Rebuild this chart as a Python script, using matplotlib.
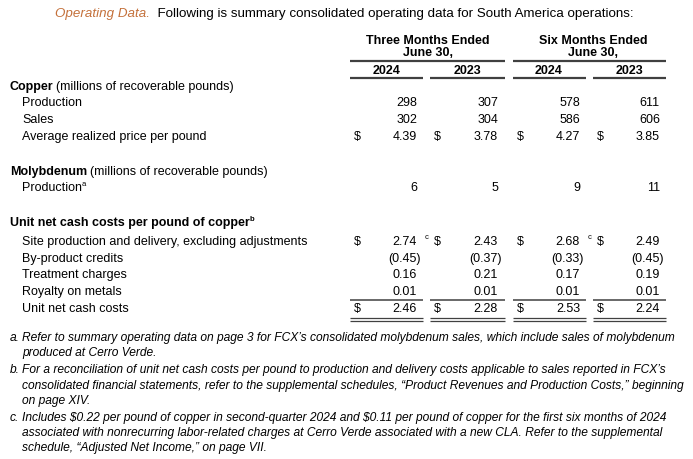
import matplotlib
matplotlib.use("Agg")
import matplotlib.pyplot as plt

# ---------------- data ----------------
periods = [("Three Months Ended", "June 30,"), ("Six Months Ended", "June 30,")]
years = ["2024", "2023", "2024", "2023"]
copper_production = [298, 307, 578, 611]
copper_sales = [302, 304, 586, 606]
avg_price = [4.39, 3.78, 4.27, 3.85]
moly_production = [6, 5, 9, 11]
site_production = [2.74, 2.43, 2.68, 2.49]
byproduct_credits = [-0.45, -0.37, -0.33, -0.45]
treatment_charges = [0.16, 0.21, 0.17, 0.19]
royalty = [0.01, 0.01, 0.01, 0.01]
unit_net_cash = [2.46, 2.28, 2.53, 2.24]
site_notes = ["c", "", "c", ""]

footnotes = [
    ("a.", ["Refer to summary operating data on page 3 for FCX\u2019s consolidated molybdenum sales, which include sales of molybdenum",
            "produced at Cerro Verde."]),
    ("b.", ["For a reconciliation of unit net cash costs per pound to production and delivery costs applicable to sales reported in FCX\u2019s",
            "consolidated financial statements, refer to the supplemental schedules, \u201cProduct Revenues and Production Costs,\u201d beginning",
            "on page XIV."]),
    ("c.", ["Includes $0.22 per pound of copper in second-quarter 2024 and $0.11 per pound of copper for the first six months of 2024",
            "associated with nonrecurring labor-related charges at Cerro Verde associated with a new CLA. Refer to the supplemental",
            "schedule, \u201cAdjusted Net Income,\u201d on page VII."]),
]

plt.rcParams["font.family"] = ["Liberation Sans", "DejaVu Sans"]

fig = plt.figure(figsize=(6.93, 4.60), dpi=100)
ax = fig.add_axes([0, 0, 1, 1])
ax.set_xlim(0, 693)
ax.set_ylim(460, 0)
ax.axis("off")
renderer = fig.canvas.get_renderer()

FS = 9
LINE = "#404040"

def t(x, y, s, **kw):
    kw.setdefault("fontsize", FS)
    kw.setdefault("va", "center")
    kw.setdefault("color", "black")
    kw.setdefault("parse_math", False)
    return ax.text(x, y, s, **kw)

def runs(x, y, parts, gap=0):
    for s, kw in parts:
        tx = t(x, y, s, **kw)
        x += tx.get_window_extent(renderer).width + gap

# title
runs(55, 14, [("Operating Data.", dict(color="#C4703A", style="italic", fontsize=9.6)),
              ("  Following is summary consolidated operating data for South America operations:", dict(fontsize=9.6))])

# headers
period_centers = [428, 593]
for cx, (l1, l2) in zip(period_centers, periods):
    t(cx, 41, l1, ha="center", fontweight="bold")
    t(cx, 52.5, l2, ha="center", fontweight="bold")
ax.hlines(62, 350, 505, color=LINE, lw=1.6)
ax.hlines(62, 513, 666, color=LINE, lw=1.6)

year_centers = [387, 467, 549, 629]
for cx, yv in zip(year_centers, years):
    t(cx, 70.5, yv, ha="center", fontweight="bold")
col_segs = [(350, 423), (430, 505), (513, 586), (593, 666)]
for a, b in col_segs:
    ax.hlines(79, a, b, color=LINE, lw=1.6)

right = [417, 498, 580, 660]
dollar_x = [357, 437, 520, 600]

def row_values(y, vals, fmt, dollar=False, notes=None):
    for i, v in enumerate(vals):
        if v < 0:
            s = "(" + fmt.format(-v) + ")"
            t(right[i] + 3.5, y, s, ha="right")
        else:
            t(right[i], y, fmt.format(v), ha="right")
        if dollar:
            t(dollar_x[i], y, "$", ha="center")
        if notes and notes[i]:
            t(right[i] + 7.5, y - 4.5, notes[i], ha="left", fontsize=5.5)

# Copper section
runs(10, 87, [("Copper", dict(fontweight="bold")), ("(millions of recoverable pounds)", {})], gap=2.5)
t(22, 103, "Production")
row_values(103, copper_production, "{:d}")
t(22, 120, "Sales")
row_values(120, copper_sales, "{:d}")
t(22, 137, "Average realized price per pound")
row_values(137, avg_price, "{:.2f}", dollar=True)

# Molybdenum
runs(10, 172, [("Molybdenum", dict(fontweight="bold")), ("(millions of recoverable pounds)", {})], gap=2.5)
runs(22, 188, [("Production", {}), ("a", dict(fontsize=5.5, va="bottom"))])
row_values(188, moly_production, "{:d}")

# Unit net cash costs
runs(10, 223, [("Unit net cash costs per pound of copper", dict(fontweight="bold")),
               ("b", dict(fontsize=5.5, va="bottom", fontweight="bold"))])
t(22, 242, "Site production and delivery, excluding adjustments")
row_values(242, site_production, "{:.2f}", dollar=True, notes=site_notes)
t(22, 259, "By-product credits")
row_values(259, byproduct_credits, "{:.2f}")
t(22, 275.5, "Treatment charges")
row_values(275.5, treatment_charges, "{:.2f}")
t(22, 292, "Royalty on metals")
row_values(292, royalty, "{:.2f}")
for a, b in col_segs:
    ax.hlines(301, a, b, color=LINE, lw=1.1)
t(22, 309, "Unit net cash costs")
row_values(309, unit_net_cash, "{:.2f}", dollar=True)
for a, b in col_segs:
    ax.hlines(318.5, a, b, color=LINE, lw=0.9)
    ax.hlines(321.5, a, b, color=LINE, lw=0.9)

# footnotes: size so the longest line spans the reference width
wmax = 0
for _, lines in footnotes:
    for line in lines:
        probe = t(22, 0, line, style="italic", fontsize=10)
        wmax = max(wmax, probe.get_window_extent(renderer).width)
        probe.remove()
FN = 10 * 666 / wmax

fy = [[338, 353], [370, 386, 401], [418, 433, 448]]
for (lab, lines), ys in zip(footnotes, fy):
    t(10, ys[0], lab, style="italic", fontsize=FN)
    for line, yy in zip(lines, ys):
        t(22, yy, line, style="italic", fontsize=FN)

fig.savefig("out.png", dpi=100)
